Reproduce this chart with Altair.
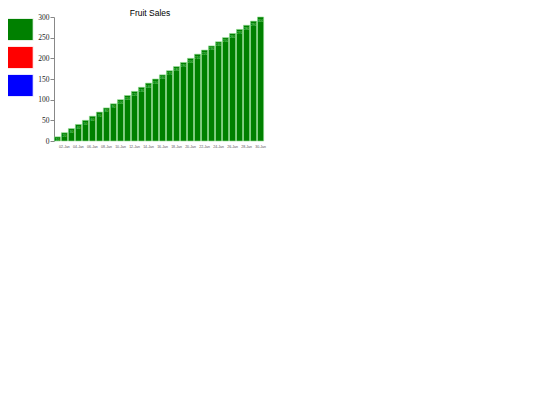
import altair as alt
import pandas as pd

dates = [f"{d:02d}-Jan" for d in range(1, 31)]
sales = [10 * d for d in range(1, 31)]
fruits = ["Apples", "Strawberries", "Blueberries"]
fruit_colors = ["#008000", "#ff0000", "#0000ff"]
y_ticks = [0, 50, 100, 150, 200, 250, 300]
x_tick_labels = [f"{d:02d}-Jan" for d in range(2, 31, 2)]

df = pd.DataFrame({"date": dates, "sales": sales, "fruit": [fruits[0]] * len(dates)})

x_axis = alt.Axis(values=x_tick_labels, labelAngle=0, labelFontSize=3.5,
                  labelColor="#555555", domain=False, ticks=False,
                  labelPadding=3, labelFont="Liberation Sans", labelOverlap=False)
y_axis = alt.Axis(values=y_ticks, labelFont="Liberation Serif",
                  labelFontSize=7.5, labelColor="#222222", domainColor="#888888",
                  tickColor="#888888", tickSize=4, labelPadding=1, grid=False,
                  labelOverlap=False)
x_scale = alt.Scale(paddingInner=0.12, paddingOuter=0.05)
y_scale = alt.Scale(domain=[0, 300], nice=False)

base = alt.Chart(df)

bars = base.mark_bar(stroke="#8fdc8f", strokeWidth=0.6).encode(
    x=alt.X("date:N", sort=dates, title=None, scale=x_scale, axis=x_axis),
    y=alt.Y("sales:Q", title=None, scale=y_scale, axis=y_axis),
    color=alt.Color("fruit:N",
                    scale=alt.Scale(domain=fruits, range=fruit_colors),
                    legend=alt.Legend(title=None, orient="none", legendX=-46, legendY=1,
                                      symbolType="M-1.24,-1H1.24V1H-1.24Z", symbolSize=484,
                                      symbolStrokeColor="#ffffff", symbolStrokeWidth=0.8,
                                      symbolOpacity=1, rowPadding=1, labelExpr="''",
                                      labelFontSize=1, labelOffset=0, padding=0)),
)

labels = base.mark_text(baseline="top", dy=1.5, fontSize=3.5, color="#8fdc8f").encode(
    x=alt.X("date:N", sort=dates, title=None, scale=x_scale, axis=x_axis),
    y=alt.Y("sales:Q", title=None, scale=y_scale, axis=y_axis),
    text=alt.Text("sales:Q"),
)

chart = (bars + labels).properties(
    width=210, height=124,
    title=alt.TitleParams("Fruit Sales", fontSize=8.5, fontWeight="normal",
                          font="Liberation Sans", color="#000000",
                          anchor="middle", dx=-9, offset=-4),
    padding={"left": 0, "top": 0, "right": 5, "bottom": 5},
).configure_view(stroke=None)

chart.save("out.html", embed_options={"renderer": "svg", "actions": False})
